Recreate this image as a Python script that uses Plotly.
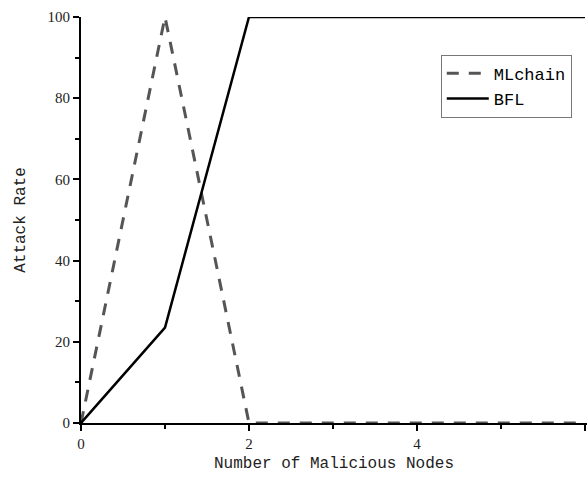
import plotly.graph_objects as go

nodes = [0, 1, 2, 3, 4, 5, 6]
mlchain = [0, 100, 0, 0, 0, 0, 0]
bfl = [0, 23.5, 100, 100, 100, 100, 100]
x_ticks = [0, 2, 4, 6]
y_ticks = [0, 20, 40, 60, 80, 100]

fig = go.Figure()
fig.add_trace(go.Scatter(x=nodes, y=mlchain, mode="lines", name="MLchain",
                         line=dict(color="#555555", width=3, dash="12px,10px")))
fig.add_trace(go.Scatter(x=nodes, y=bfl, mode="lines", name="BFL",
                         line=dict(color="black", width=2.5)))

fig.update_layout(
    width=587, height=483,
    margin=dict(l=81, r=0, t=17, b=60),
    plot_bgcolor="white", paper_bgcolor="white",
    font=dict(family="Liberation Serif", size=15, color="#222"),
    legend=dict(x=0.711, y=0.907, xanchor="left", yanchor="top",
                bordercolor="#777", borderwidth=1, bgcolor="white",
                font=dict(family="Liberation Mono", size=17, color="black"),
                tracegroupgap=0, itemwidth=42),
    xaxis=dict(range=[0, 6.024], tickmode="array", tickvals=x_ticks, showgrid=False, zeroline=False,
               showline=True, linecolor="black", linewidth=2,
               ticks="outside", ticklen=6, tickwidth=2, tickcolor="black",
               minor=dict(tick0=0, dtick=1, ticks="outside", ticklen=4, tickwidth=2, tickcolor="black", showgrid=False),
               title=dict(text="Number of Malicious Nodes", standoff=6,
                          font=dict(family="Liberation Mono", size=16, color="#222")),
               tickfont=dict(family="Liberation Serif", size=15, color="#222")),
    yaxis=dict(range=[0, 100], tickmode="array", tickvals=y_ticks, showgrid=False, zeroline=False,
               showline=True, linecolor="black", linewidth=2,
               ticks="outside", ticklen=6, tickwidth=2, tickcolor="black",
               minor=dict(tick0=0, dtick=10, ticks="outside", ticklen=4, tickwidth=2, tickcolor="black", showgrid=False),
               title=dict(text="Attack Rate", standoff=18,
                          font=dict(family="Liberation Mono", size=16, color="#222")),
               tickfont=dict(family="Liberation Serif", size=15, color="#222")),
)
fig.write_html("out.html")
